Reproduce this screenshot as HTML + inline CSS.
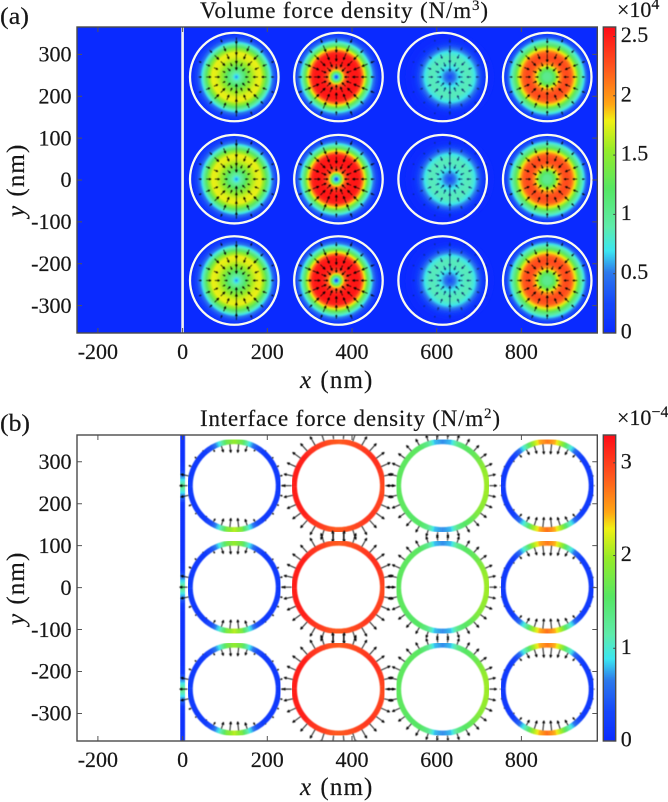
<!DOCTYPE html>
<html lang="en">
<head>
<meta charset="utf-8">
<title>Volume and interface force density</title>
<style>
html,body{margin:0;padding:0;background:#fff;}
svg{display:block;}
text{font-family:"Liberation Serif","DejaVu Serif",serif;fill:#161616;stroke:#161616;stroke-width:0.18;}
</style>
</head>
<body>
<svg id="fig" xmlns="http://www.w3.org/2000/svg" width="668" height="802" viewBox="0 0 668 802">
  <defs id="defs">
    <filter id="soft" x="-2%" y="-2%" width="104%" height="104%"><feGaussianBlur stdDeviation="0.45"/></filter>
    <clipPath id="clipA"><rect x="77" y="27" width="520.3" height="306"/></clipPath>
    <clipPath id="clipB"><rect x="77" y="435" width="520.3" height="306"/></clipPath>
  </defs>
  <rect x="0" y="0" width="668" height="802" fill="#ffffff"/>

  <text x="0" y="24" font-size="24" textLength="29" lengthAdjust="spacingAndGlyphs">(a)</text>
  <text x="0" y="431" font-size="24" textLength="30" lengthAdjust="spacingAndGlyphs">(b)</text>

  <text x="200" y="18" font-size="23" textLength="288" lengthAdjust="spacing">Volume force density (N/m<tspan dy="-8" font-size="15">3</tspan><tspan dy="8">)</tspan></text>
  <text x="200" y="426" font-size="23" textLength="300" lengthAdjust="spacing">Interface force density (N/m<tspan dy="-8" font-size="15">2</tspan><tspan dy="8">)</tspan></text>

  <g id="panelA"></g>
  <g id="panelB"></g>

  <text x="300" y="388" font-size="25"><tspan font-style="italic">x</tspan> <tspan dx="3" textLength="52">(nm)</tspan></text>
  <text x="300" y="795" font-size="25"><tspan font-style="italic">x</tspan> <tspan dx="3" textLength="52">(nm)</tspan></text>
  <text transform="translate(24,217) rotate(-90)" font-size="25"><tspan font-style="italic">y</tspan> <tspan dx="3" textLength="52">(nm)</tspan></text>
  <text transform="translate(24,625) rotate(-90)" font-size="25"><tspan font-style="italic">y</tspan> <tspan dx="3" textLength="52">(nm)</tspan></text>

  <text x="617" y="17" font-size="22">×10<tspan dy="-8" font-size="16">4</tspan></text>
  <text x="617" y="425" font-size="22">×10<tspan dy="-8" font-size="16">−4</tspan></text>
</svg>

<script>
// ---- Data ----
var xTicks = [-200, 0, 200, 400, 600, 800];
var yTicks = [300, 200, 100, 0, -100, -200, -300];
var xTickLabels = ['-200', '0', '200', '400', '600', '800'];
var yTickLabels = ['300', '200', '100', '0', '-100', '-200', '-300'];

var sphereX = [122, 368, 614, 861];           // nm
var sphereYVolume = [246, 2, -240];           // nm
var sphereYInterface = [243, 1, -242];        // nm
var sphereRadius = 105;                       // nm
var fieldOffsetX = [5, -5, 17, 0];            // nm, centre of the field versus the ring

var volumeTicks = [0, 0.5, 1, 1.5, 2, 2.5];
var volumeTickLabels = ['0', '0.5', '1', '1.5', '2', '2.5'];
var volumeMax = 2.58;
var interfaceTicks = [0, 1, 2, 3];
var interfaceTickLabels = ['0', '1', '2', '3'];
var interfaceMax = 3.3;

// Volume force density (x1e4 N/m^3), sampled from centre to rim
var volumeProfile1 = [0.5, 0.9, 1.15, 1.4, 1.6, 1.75, 1.78, 1.45, 0.95, 0.5, 0.2, 0.05];
var volumeProfile2 = [0.1, 1.1, 2.1, 2.45, 2.55, 2.55, 2.45, 1.8, 1.1, 0.6, 0.25, 0.05];
var volumeProfile3 = [0.25, 0.45, 0.65, 0.8, 0.85, 0.85, 0.75, 0.5, 0.2, 0.04, 0.01, 0];
var volumeProfile4 = [1.0, 1.05, 1.35, 1.95, 2.25, 2.3, 2.2, 1.75, 1.15, 0.75, 0.3, 0.05];

// Quiver magnitudes along each ray (inner to outer), plus gain per ray (0 deg, 22.5 deg, ...)
var quiverMag1 = [0.45, 0.7, 0.7, 0.4];
var quiverMag2 = [0.6, 0.8, 0.75, 0.45];
var quiverMag3 = [0.55, 0.55, 0.4, 0.2];
var quiverMag4 = [0.5, 0.7, 0.65, 0.4];
var rayGain1 = [0.8, 0.7, 1, 0.9, 1.9, 0.9, 1, 0.7, 0.8, 0.7, 1, 0.9, 1.9, 0.9, 1, 0.7];
var rayGain2 = [0.9, 1, 1, 1.1, 1, 1.1, 1, 1, 0.9, 1, 1, 1.1, 1, 1.1, 1, 1];
var rayGain3 = [0.9, 0.8, 1, 0.9, 2.2, 0.9, 1, 0.8, 0.9, 0.8, 1, 0.9, 2.2, 0.9, 1, 0.8];
var rayGain4 = [0.8, 0.9, 1, 0.9, 1.4, 0.9, 1, 0.9, 0.8, 0.9, 1, 0.9, 1.4, 0.9, 1, 0.9];

// Interface force density (x1e-4 N/m^2) at 0, 10, ... 350 deg around each ring
var ringValues1 = [.15,.15,.15,.15,.15,.18,.4,.9,1.7,1.95,1.7,.9,.4,.18,.15,.15,.15,.18,.2,.18,.15,.15,.15,.18,.4,.95,1.8,2.1,1.8,.95,.4,.18,.15,.15,.15,.15];
var ringValues2 = [2.95,3,3.05,3.1,3.1,3.05,3,2.95,2.9,2.85,2.9,3,3.05,3.1,3.2,3.2,3.2,3.2,3.2,3.2,3.2,3.2,3.2,3.1,3.05,3,2.9,2.85,2.9,2.95,3,3.05,3.05,3,3,2.95];
var ringValues3 = [2,2,1.95,1.85,1.7,1.6,1.55,1.35,.8,.7,.8,1.35,1.55,1.6,1.6,1.6,1.6,1.6,1.6,1.6,1.6,1.6,1.55,1.55,1.55,1.35,.8,.7,.8,1.35,1.55,1.65,1.8,1.9,1.95,2];
var ringValues4 = [.15,.15,.15,.15,.2,.5,1.1,1.9,2.45,2.7,2.45,1.9,1.1,.5,.2,.15,.15,.15,.15,.15,.15,.15,.2,.5,1.1,1.9,2.45,2.75,2.45,1.9,1.1,.5,.2,.15,.15,.15];

// Signed normal force at 0, 12, ... 348 deg (positive points outward)
var normalForce1 = [.25,.25,.2,.15,.05,-.2,-.6,-.85,-.85,-.65,-.25,.05,.2,.3,.8,.8,.8,.3,.15,-.05,-.35,-.7,-.9,-.9,-.65,-.3,.05,.2,.2,.25];
var normalForce2 = [.95,.95,1,1,1,1,1,1,1,1,1,1,1,.95,.9,.9,.9,.95,1,1,1,1,1,1,1,1,1,1,.95,.95];
var normalForce3 = [.75,.75,.75,.75,.75,.7,.65,.5,.5,.65,.7,.75,.8,.85,.9,.9,.9,.85,.8,.75,.7,.65,.5,.5,.65,.7,.75,.75,.75,.75];
var normalForce4 = [.05,.05,.05,-.1,-.35,-.6,-.85,-1,-1,-.8,-.6,-.35,-.1,.05,.05,.05,.05,.05,-.1,-.35,-.6,-.85,-1,-1,-.85,-.6,-.35,-.1,.05,.05];

// Interface force along the flat wall, around each row centre (-120 ... 120 nm)
var wallValues = [.1,.1,.1,.1,.15,.75,1.35,.75,.15,.1,.1,.1,.1];

// ---- Helpers ----
var NS = 'http://www.w3.org/2000/svg';
var cmapPos = [0, 0.1, 0.2, 0.27, 0.35, 0.47, 0.6, 0.695, 0.75, 0.87, 1];
var cmapR = [10, 22, 45, 60, 95, 85, 150, 240, 255, 255, 255];
var cmapG = [42, 72, 122, 230, 235, 230, 235, 240, 165, 85, 12];
var cmapB = [255, 250, 235, 240, 170, 100, 40, 20, 20, 30, 24];

function cmap(t) {
  t = Math.max(0, Math.min(1, t));
  var i = 0;
  while (i < cmapPos.length - 2 && t > cmapPos[i + 1]) i++;
  var f = (t - cmapPos[i]) / (cmapPos[i + 1] - cmapPos[i]);
  var r = Math.round(cmapR[i] + f * (cmapR[i + 1] - cmapR[i]));
  var g = Math.round(cmapG[i] + f * (cmapG[i + 1] - cmapG[i]));
  var b = Math.round(cmapB[i] + f * (cmapB[i + 1] - cmapB[i]));
  return 'rgb(' + r + ',' + g + ',' + b + ')';
}
function mk(tag, parent) {
  var e = document.createElementNS(NS, tag);
  (parent || document.getElementById('fig')).appendChild(e);
  return e;
}
function setAll(e, a) { for (var k in a) e.setAttribute(k, a[k]); return e; }

function xScale(nm) { return 182.6 + 0.4235 * nm; }
function yScaleA(nm) { return 180 - 0.4187 * nm; }
function yScaleB(nm) { return 587.6 - 0.4195 * nm; }
function nmToPx(nm) { return nm * 0.4215; }

function arrowPath(x0, y0, x1, y1) {
  var dx = x1 - x0, dy = y1 - y0, L = Math.sqrt(dx * dx + dy * dy) || 1;
  var ux = dx / L, uy = dy / L, h = Math.min(L * 0.35, 2.2), w = h * 0.4;
  var bx = x1 - ux * h, by = y1 - uy * h;
  return 'M' + x0.toFixed(2) + ' ' + y0.toFixed(2) + 'L' + x1.toFixed(2) + ' ' + y1.toFixed(2) +
    'L' + (bx - uy * w).toFixed(2) + ' ' + (by + ux * w).toFixed(2) +
    'L' + (bx + uy * w).toFixed(2) + ' ' + (by - ux * w).toFixed(2) + 'L' + x1.toFixed(2) + ' ' + y1.toFixed(2);
}

function drawAxes(parent, top, bottom, yScale, prefix) {
  var left = 77, right = 597.3;
  var g = mk('g', parent);
  
  
  xTicks.forEach(function (v, i) {
    var x = xScale(v);
    var t = mk('path', g);
    setAll(t, { d: 'M' + x + ' ' + bottom + 'V' + (bottom - 5) + 'M' + x + ' ' + top + 'V' + (top + 5), stroke: '#555', 'stroke-width': 1, fill: 'none' });
    
    
    var l = mk('text', g);
    setAll(l, { x: x, y: bottom + 26, 'font-size': 22, 'text-anchor': 'middle' });
    l.textContent = xTickLabels[i];
    
    
  });
  yTicks.forEach(function (v, i) {
    var y = yScale(v);
    var t = mk('path', g);
    setAll(t, { d: 'M' + left + ' ' + y + 'H' + (left + 5) + 'M' + right + ' ' + y + 'H' + (right - 5), stroke: '#555', 'stroke-width': 1, fill: 'none' });
    
    
    var l = mk('text', g);
    setAll(l, { x: 71.5, y: y + 7.2, 'font-size': 22, 'text-anchor': 'end' });
    l.textContent = yTickLabels[i];
    
    
  });
  var box = mk('rect', g);
  setAll(box, { x: left, y: top, width: right - left, height: bottom - top, fill: 'none', stroke: '#4a4a4a', 'stroke-width': 1.4 });
  
  
}

function drawColorbar(parent, top, bottom, maxV, ticks, labels, prefix) {
  var x0 = 603.3, x1 = 615.7, g = mk('g', parent), n = 153;
  
  
  var h = (bottom - top) / n;
  for (var i = 0; i < n; i++) {
    var r = mk('rect', g);
    setAll(r, { x: x0, y: bottom - (i + 1) * h, width: x1 - x0, height: h + 0.4, fill: cmap((i + 0.5) / n) });
    
    
  }
  var box = mk('rect', g);
  setAll(box, { x: x0, y: top, width: x1 - x0, height: bottom - top, fill: 'none', stroke: '#4a4a4a', 'stroke-width': 1.4 });
  
  
  ticks.forEach(function (v, i) {
    var y = bottom - (bottom - top) * v / maxV;
    var t = mk('path', g);
    setAll(t, { d: 'M' + x1 + ' ' + y + 'H' + (x1 - 2.5), stroke: '#444', 'stroke-width': 1, fill: 'none' });
    
    
    var l = mk('text', g);
    setAll(l, { x: 620.7, y: y + 5.5, 'font-size': 22 });
    l.textContent = labels[i];
    
    
  });
}

// ---- Panel (a): volume force density ----
function drawPanelA() {
  var p = document.getElementById('panelA');
  var profiles = [volumeProfile1, volumeProfile2, volumeProfile3, volumeProfile4];
  var mags = [quiverMag1, quiverMag2, quiverMag3, quiverMag4];
  var gains = [rayGain1, rayGain2, rayGain3, rayGain4];
  var defs = document.getElementById('defs');
  var bg = mk('rect', p);
  setAll(bg, { x: 77, y: 27, width: 520.3, height: 306, fill: cmap(0) });
  
  

  var marks = mk('g', p);
  setAll(marks, { 'clip-path': 'url(#clipA)' });
  
  

  sphereYVolume.forEach(function (yNm, row) {
    sphereX.forEach(function (xNm, col) {
      var cx = xScale(xNm), cy = yScaleA(yNm);
      var fx = xScale(xNm + fieldOffsetX[col]);
      var prof = profiles[col], n = prof.length - 1;
      var id = 'field' + row + '_' + col;
      var grad = mk('radialGradient', defs);
      grad.setAttribute('id', id);
      for (var k = 0; k < n; k++) {
        for (var s = 0; s < 4; s++) {
          var v = prof[k] + (prof[k + 1] - prof[k]) * s / 4;
          var st = mk('stop', grad);
          setAll(st, { offset: ((k + s / 4) / n * 100).toFixed(2) + '%', 'stop-color': cmap(v / volumeMax) });
        }
      }
      var end = mk('stop', grad);
      setAll(end, { offset: '100%', 'stop-color': cmap(prof[n] / volumeMax) });

      var disc = mk('circle', marks);
      setAll(disc, { cx: fx, cy: cy, r: nmToPx(sphereRadius), fill: 'url(#' + id + ')', filter: 'url(#soft)' });
      
      

      var q = mk('g', marks);
      setAll(q, { filter: 'url(#soft)' });
      
      
      gains[col].forEach(function (gain, ray) {
        var ang = ray * Math.PI / 8;
        mags[col].forEach(function (m, i) {
          var r = 10.5 + 8.6 * i + (ray % 2) * 3;
          var len = m * gain * 8.5;
          var a = mk('path', q);
          setAll(a, {
            d: arrowPath(fx + (r + len / 2) * Math.cos(ang), cy - (r + len / 2) * Math.sin(ang),
                         fx + (r - len / 2) * Math.cos(ang), cy - (r - len / 2) * Math.sin(ang)),
            stroke: col === 2 ? '#0a2a70' : '#000', 'stroke-width': 0.75, fill: '#000'
          });
          
          
        });
      });

      var ring = mk('circle', marks);
      setAll(ring, { cx: cx, cy: cy, r: nmToPx(sphereRadius), fill: 'none', stroke: '#fbfbee', 'stroke-width': 2.3 });
      
      
    });
  });

  var wall = mk('rect', marks);
  setAll(wall, { x: xScale(0) - 1.3, y: 27, width: 2.6, height: 306, fill: '#f2f2ee' });
  
  

  drawAxes(p, 27, 333, yScaleA, 'panel-a');
  drawColorbar(p, 27, 333, volumeMax, volumeTicks, volumeTickLabels, 'panel-a');
}

// ---- Panel (b): interface force density ----
function arcD(cx, cy, r, a0, a1) {
  var x0 = cx + r * Math.cos(a0), y0 = cy - r * Math.sin(a0);
  var x1 = cx + r * Math.cos(a1), y1 = cy - r * Math.sin(a1);
  return 'M' + x0.toFixed(2) + ' ' + y0.toFixed(2) + 'A' + r + ' ' + r + ' 0 0 0 ' + x1.toFixed(2) + ' ' + y1.toFixed(2);
}
function wallValueAt(yNm) {
  var best = Infinity;
  sphereYInterface.forEach(function (c) { if (Math.abs(yNm - c) < Math.abs(best)) best = yNm - c; });
  var f = (best + 120) / 20;
  var i = Math.floor(f), d = f - i;
  if (i < 0) return wallValues[0];
  if (i >= wallValues.length - 1) return wallValues[wallValues.length - 1];
  return wallValues[i] + (wallValues[i + 1] - wallValues[i]) * d;
}

function drawPanelB() {
  var p = document.getElementById('panelB');
  var rings = [ringValues1, ringValues2, ringValues3, ringValues4];
  var forces = [normalForce1, normalForce2, normalForce3, normalForce4];
  var marks = mk('g', p);
  setAll(marks, { 'clip-path': 'url(#clipB)' });
  
  

  var wallG = mk('g', marks);
  setAll(wallG, { filter: 'url(#soft)' });
  
  
  for (var yNm = -365; yNm < 365; yNm += 5) {
    var seg = mk('rect', wallG);
    setAll(seg, { x: xScale(0) - 2.5, y: yScaleB(yNm + 5), width: 5, height: nmToPx(5) + 0.4, fill: cmap(wallValueAt(yNm + 2.5) / interfaceMax) });
    
    
  }

  sphereYInterface.forEach(function (yN) {
    sphereX.forEach(function (xN, col) {
      var cx = xScale(xN), cy = yScaleB(yN), R = 44.2;
      var vals = rings[col], n = vals.length, sub = 4;
      var g = mk('g', marks);
      setAll(g, { filter: 'url(#soft)' });
      
      
      for (var i = 0; i < n; i++) {
        for (var s = 0; s < sub; s++) {
          var v = vals[i] + (vals[(i + 1) % n] - vals[i]) * s / sub;
          var a0 = (i + (s - 0.5) / sub) * 2 * Math.PI / n;
          var a1 = (i + (s + 0.6) / sub) * 2 * Math.PI / n;
          var arc = mk('path', g);
          setAll(arc, { d: arcD(cx, cy, R, a0, a1), fill: 'none', stroke: cmap(v / interfaceMax), 'stroke-width': 5.4 });
          
          
        }
      }
      var q = mk('g', marks);
      setAll(q, { filter: 'url(#soft)' });
      
      
      forces[col].forEach(function (f, i) {
        var ang = i * 2 * Math.PI / forces[col].length;
        var start = f >= 0 ? R + 2.5 : R - 2.5;
        var end = start + f * 10;
        var a = mk('path', q);
        setAll(a, {
          d: arrowPath(cx + start * Math.cos(ang), cy - start * Math.sin(ang), cx + end * Math.cos(ang), cy - end * Math.sin(ang)),
          stroke: '#000', 'stroke-width': 0.9, fill: '#000'
        });
        
        
      });
    });
  });

  drawAxes(p, 435, 741, yScaleB, 'panel-b');
  drawColorbar(p, 435, 741, interfaceMax, interfaceTicks, interfaceTickLabels, 'panel-b');
}

drawPanelA();
drawPanelB();
</script>
</body>
</html>
